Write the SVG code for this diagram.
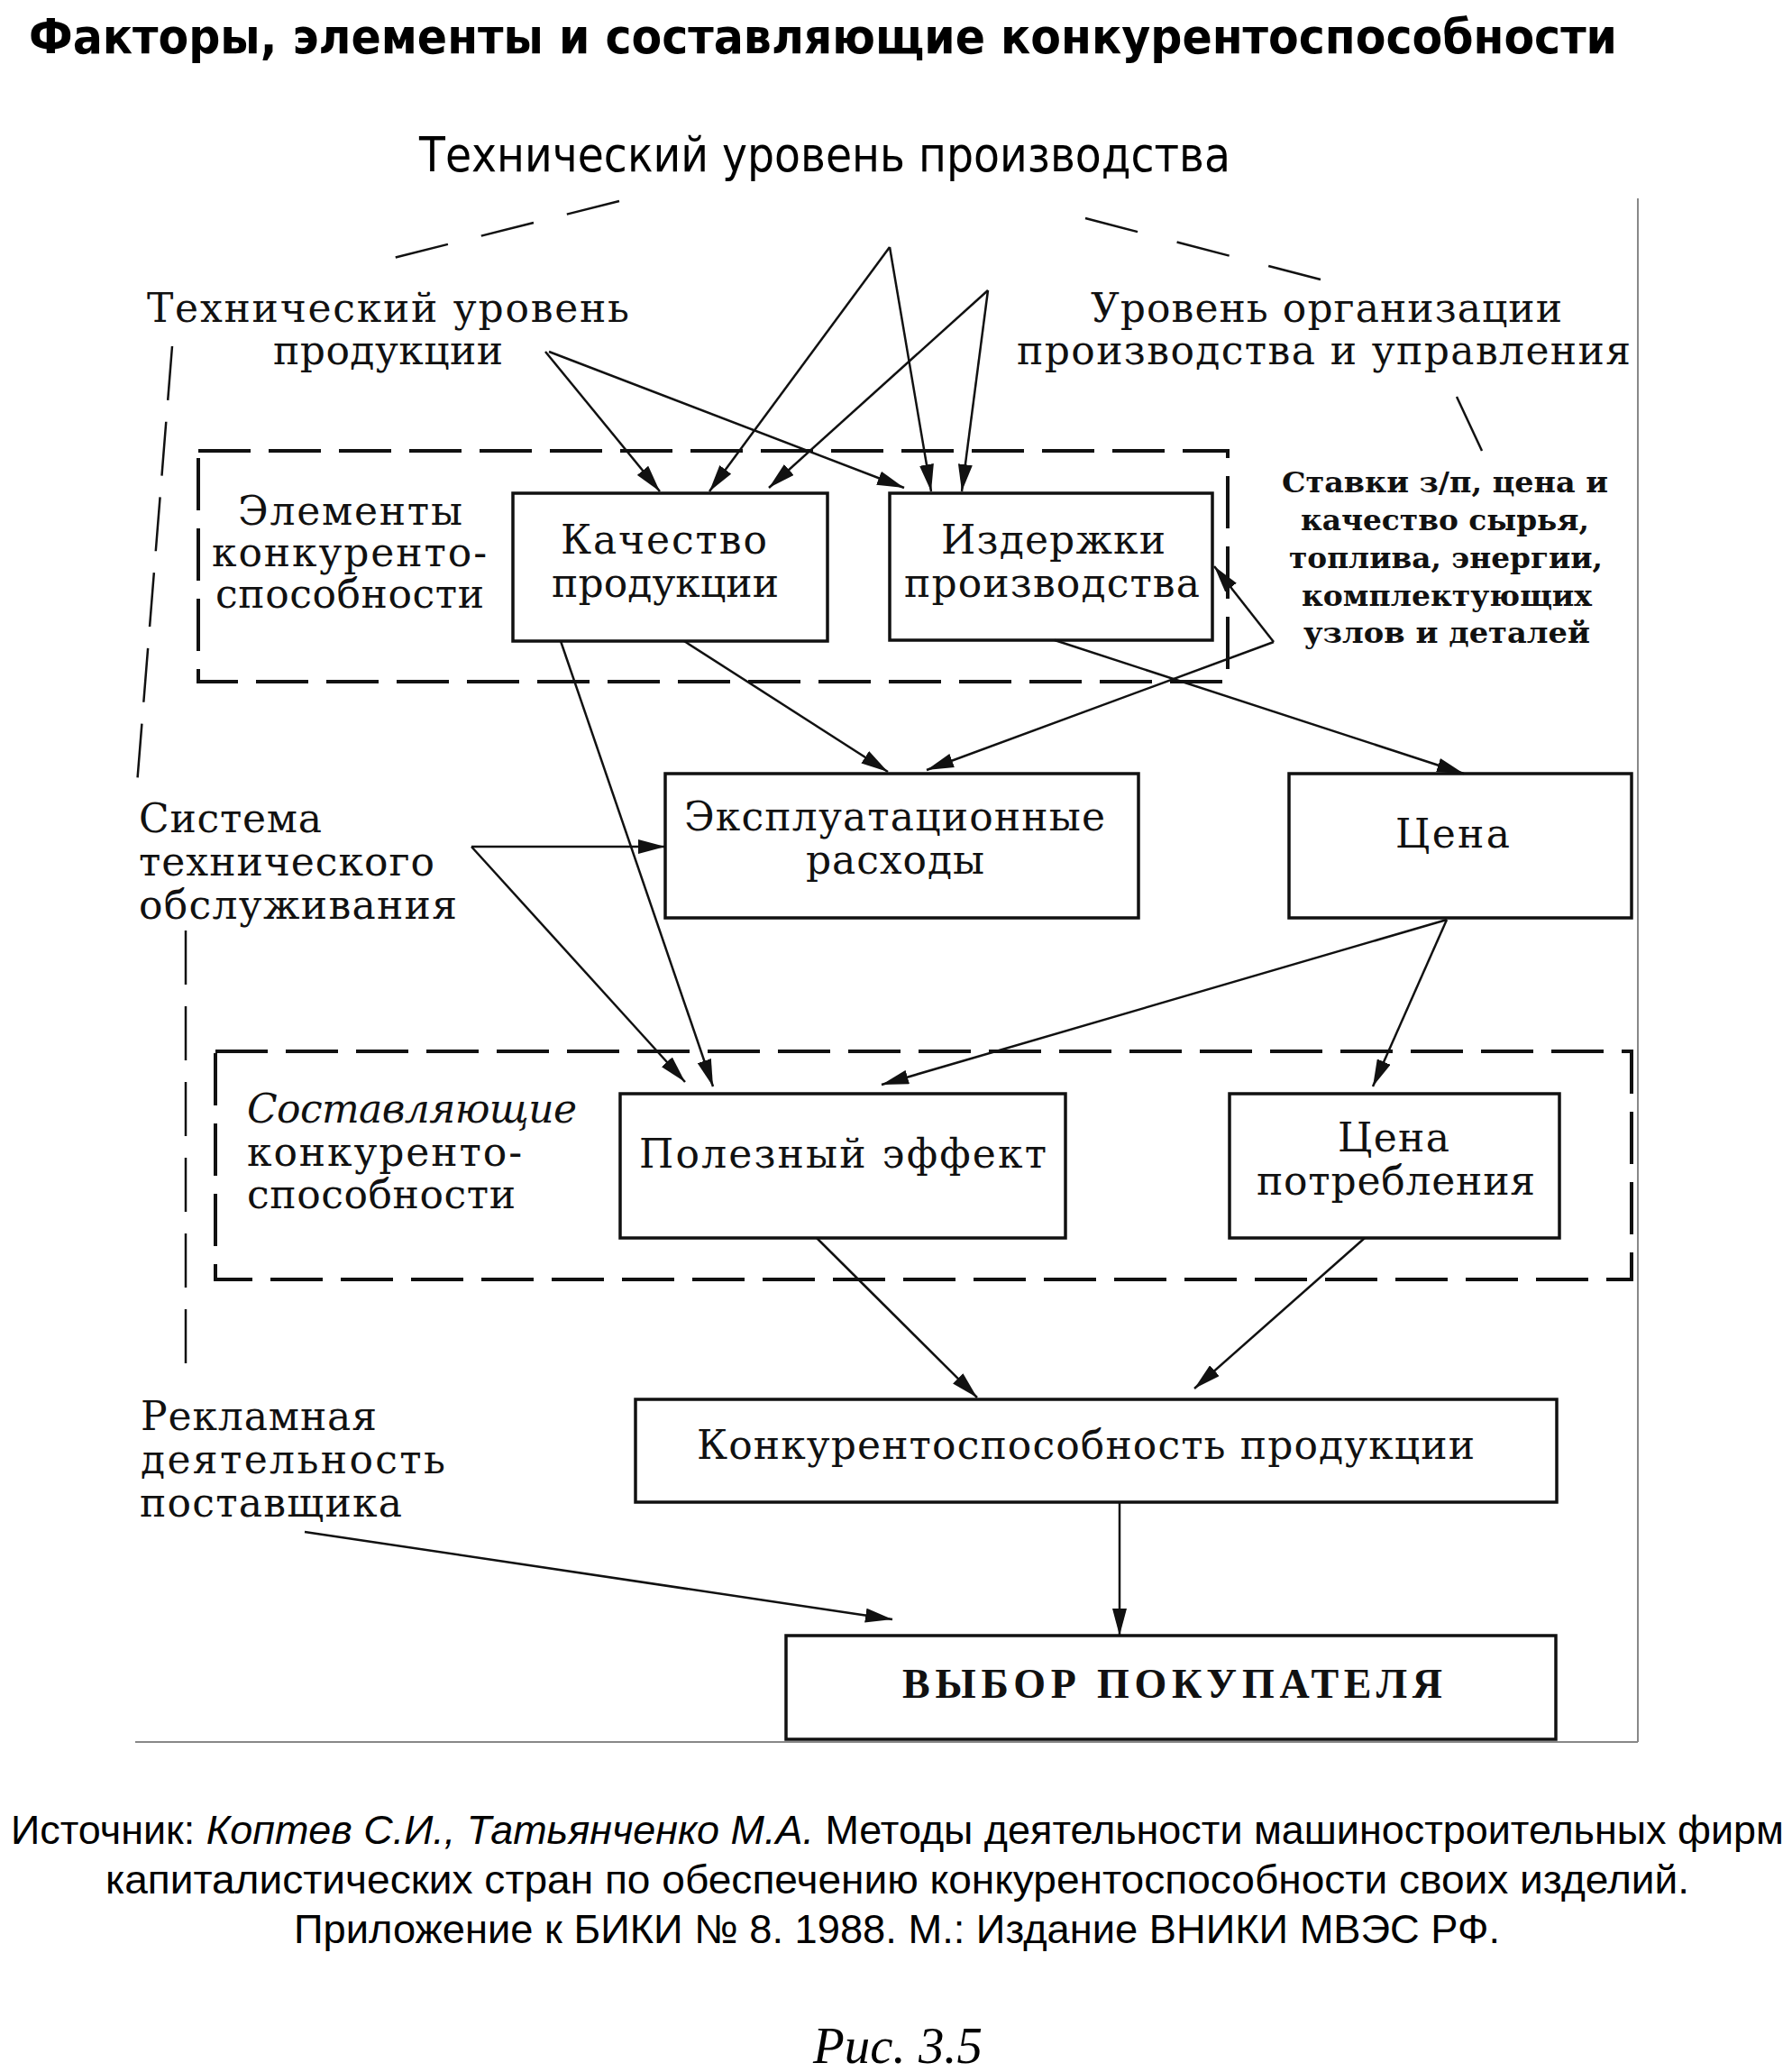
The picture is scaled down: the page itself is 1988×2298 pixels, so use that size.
<svg xmlns="http://www.w3.org/2000/svg" width="1988" height="2298" viewBox="0 0 1988 2298">
<style>
.bg{fill:#fff}
.box{fill:none;stroke:#111;stroke-width:3.5}
.dbox{fill:none;stroke:#111;stroke-width:4;stroke-dasharray:58 20}
.ln{fill:none;stroke:#111;stroke-width:2.5}
.arr{fill:none;stroke:#111;stroke-width:2.5;marker-end:url(#ah)}
.t{font-family:"DejaVu Serif","Liberation Serif",serif;font-size:44px;fill:#111}
.st{font-family:"DejaVu Serif","Liberation Serif",serif;font-size:32px;font-weight:bold;fill:#111;text-anchor:middle}
.sans{font-family:"DejaVu Sans","Liberation Sans",sans-serif;fill:#000}
.src{font-family:"Liberation Sans","DejaVu Sans",sans-serif;font-size:45px;fill:#000}
.frame{fill:none;stroke:#888;stroke-width:2}
</style>
<defs>
<marker id="ah" viewBox="0 0 30 16" refX="30" refY="8" markerWidth="30" markerHeight="16" markerUnits="userSpaceOnUse" orient="auto">
<path d="M0,0 L30,8 L0,16 Z" fill="#111"/>
</marker>
</defs>
<rect class="bg" x="0" y="0" width="1988" height="2298"/>

<text x="32" y="59" font-family="DejaVu Sans, sans-serif" font-weight="bold" font-size="54" textLength="1762" lengthAdjust="spacingAndGlyphs">Факторы, элементы и составляющие конкурентоспособности</text>

<g id="frame">
<line class="frame" x1="1817" y1="220" x2="1817" y2="1932"/>
<line class="frame" x1="150" y1="1932" x2="1817" y2="1932"/>
</g>

<g id="tech-production">
<text class="sans" x="465" y="190" font-size="54" textLength="900" lengthAdjust="spacingAndGlyphs">Технический уровень производства</text>
</g>

<g id="tech-product">
<text class="t" x="163" y="357" textLength="535" lengthAdjust="spacing">Технический уровень</text>
<text class="t" x="303" y="404" textLength="255" lengthAdjust="spacing">продукции</text>
</g>

<g id="org-level">
<text class="t" x="1210" y="357" textLength="523" lengthAdjust="spacing">Уровень организации</text>
<text class="t" x="1128" y="404" textLength="681" lengthAdjust="spacing">производства и управления</text>
</g>

<g id="rates">
<text class="st" x="1603" y="546" textLength="362" lengthAdjust="spacingAndGlyphs">Ставки з/п, цена и</text>
<text class="st" x="1603" y="588" textLength="320" lengthAdjust="spacingAndGlyphs">качество сырья,</text>
<text class="st" x="1604" y="630" textLength="348" lengthAdjust="spacingAndGlyphs">топлива, энергии,</text>
<text class="st" x="1605" y="672" textLength="322" lengthAdjust="spacingAndGlyphs">комплектующих</text>
<text class="st" x="1605" y="713" textLength="318" lengthAdjust="spacingAndGlyphs">узлов и деталей</text>
</g>

<g id="elements-group">
<rect class="dbox" x="220" y="500" width="1142" height="256"/>
<text class="t" x="264" y="582" textLength="249" lengthAdjust="spacing">Элементы</text>
<text class="t" x="235" y="628" textLength="305" lengthAdjust="spacing">конкуренто-</text>
<text class="t" x="239" y="674" textLength="298" lengthAdjust="spacing">способности</text>
</g>

<g id="quality">
<rect class="box" x="569" y="547" width="349" height="164"/>
<text class="t" x="622" y="614" textLength="229" lengthAdjust="spacing">Качество</text>
<text class="t" x="612" y="662" textLength="252" lengthAdjust="spacing">продукции</text>
</g>

<g id="costs">
<rect class="box" x="987" y="547" width="358" height="163"/>
<text class="t" x="1044" y="614" textLength="249" lengthAdjust="spacing">Издержки</text>
<text class="t" x="1003" y="662" textLength="328" lengthAdjust="spacing">производства</text>
</g>

<g id="operating">
<rect class="box" x="738" y="858" width="525" height="160"/>
<text class="t" x="759" y="921" textLength="467" lengthAdjust="spacing">Эксплуатационные</text>
<text class="t" x="894" y="969" textLength="198" lengthAdjust="spacing">расходы</text>
</g>

<g id="price">
<rect class="box" x="1430" y="858" width="380" height="160"/>
<text class="t" x="1548" y="940" textLength="127" lengthAdjust="spacing">Цена</text>
</g>

<g id="service">
<text class="t" x="154" y="923" textLength="203" lengthAdjust="spacing">Система</text>
<text class="t" x="154" y="971" textLength="328" lengthAdjust="spacing">технического</text>
<text class="t" x="154" y="1019" textLength="353" lengthAdjust="spacing">обслуживания</text>
</g>

<g id="components-group">
<rect class="dbox" x="239" y="1166" width="1571" height="253"/>
<text class="t" x="274" y="1245" font-style="italic" textLength="366" lengthAdjust="spacing">Составляющие</text>
<text class="t" x="274" y="1293" textLength="305" lengthAdjust="spacing">конкуренто-</text>
<text class="t" x="274" y="1340" textLength="298" lengthAdjust="spacing">способности</text>
</g>

<g id="useful-effect">
<rect class="box" x="688" y="1213" width="494" height="160"/>
<text class="t" x="709" y="1295" textLength="452" lengthAdjust="spacing">Полезный  эффект</text>
</g>

<g id="consumption-price">
<rect class="box" x="1364" y="1213" width="366" height="160"/>
<text class="t" x="1484" y="1277" textLength="124" lengthAdjust="spacing">Цена</text>
<text class="t" x="1394" y="1325" textLength="309" lengthAdjust="spacing">потребления</text>
</g>

<g id="competitiveness">
<rect class="box" x="705" y="1552" width="1022" height="114"/>
<text class="t" x="773" y="1618" textLength="863" lengthAdjust="spacing">Конкурентоспособность  продукции</text>
</g>

<g id="advertising">
<text class="t" x="156" y="1586" textLength="262" lengthAdjust="spacing">Рекламная</text>
<text class="t" x="156" y="1634" textLength="338" lengthAdjust="spacing">деятельность</text>
<text class="t" x="155" y="1682" textLength="291" lengthAdjust="spacing">поставщика</text>
</g>

<g id="buyer-choice">
<rect class="box" x="872" y="1814" width="854" height="115"/>
<text x="1001" y="1883" font-family="Liberation Serif, serif" font-weight="bold" font-size="46" textLength="599" lengthAdjust="spacing" fill="#111">ВЫБОР  ПОКУПАТЕЛЯ</text>
</g>

<g id="connectors">
<line class="ln" x1="687" y1="223" x2="437" y2="286" stroke-width="4" stroke-dasharray="60 38"/>
<line class="ln" x1="1204" y1="242" x2="1465" y2="310" stroke-width="4" stroke-dasharray="60 45"/>
<line class="ln" x1="191" y1="384" x2="152" y2="870" stroke-width="3.5" stroke-dasharray="60 24"/>
<line class="ln" x1="206" y1="1032" x2="206" y2="1521" stroke-width="3.5" stroke-dasharray="60 24"/>
<line class="ln" x1="1616" y1="440" x2="1644" y2="500" stroke-width="3"/>

<line class="arr" x1="605" y1="390" x2="732" y2="545"/>
<line class="arr" x1="609" y1="390" x2="1003" y2="541"/>
<line class="arr" x1="987" y1="274" x2="787" y2="545"/>
<line class="arr" x1="987" y1="274" x2="1033" y2="545"/>
<line class="arr" x1="1096" y1="322" x2="853" y2="541"/>
<line class="arr" x1="1096" y1="322" x2="1067" y2="545"/>
<line class="arr" x1="1413" y1="712" x2="1347" y2="628"/>
<line class="arr" x1="1413" y1="712" x2="1028" y2="854"/>
<line class="arr" x1="759" y1="711" x2="985" y2="856"/>
<line class="arr" x1="622" y1="711" x2="791" y2="1205"/>
<line class="arr" x1="1170" y1="710" x2="1624" y2="858"/>
<line class="arr" x1="523" y1="939" x2="738" y2="939"/>
<line class="arr" x1="523" y1="939" x2="760" y2="1200"/>
<line class="arr" x1="1605" y1="1020" x2="978" y2="1203"/>
<line class="arr" x1="1605" y1="1020" x2="1523" y2="1205"/>
<line class="arr" x1="906" y1="1373" x2="1084" y2="1550"/>
<line class="arr" x1="1514" y1="1373" x2="1325" y2="1540"/>
<line class="arr" x1="1242" y1="1666" x2="1242" y2="1814"/>
<line class="arr" x1="338" y1="1699" x2="990" y2="1796" stroke-width="4"/>
</g>

<g id="source">
<text class="src" x="12" y="2045" textLength="1967" lengthAdjust="spacingAndGlyphs">Источник: <tspan font-style="italic">Коптев С.И., Татьянченко М.А.</tspan> Методы деятельности машиностроительных фирм</text>
<text class="src" x="117" y="2100" textLength="1757" lengthAdjust="spacingAndGlyphs">капиталистических стран по обеспечению конкурентоспособности своих изделий.</text>
<text class="src" x="326" y="2155" textLength="1338" lengthAdjust="spacingAndGlyphs">Приложение к БИКИ № 8. 1988. М.: Издание ВНИКИ МВЭС РФ.</text>
<text x="902" y="2288" font-family="Liberation Serif, serif" font-style="italic" font-size="56" textLength="188" lengthAdjust="spacingAndGlyphs">Рис. 3.5</text>
</g>
</svg>
